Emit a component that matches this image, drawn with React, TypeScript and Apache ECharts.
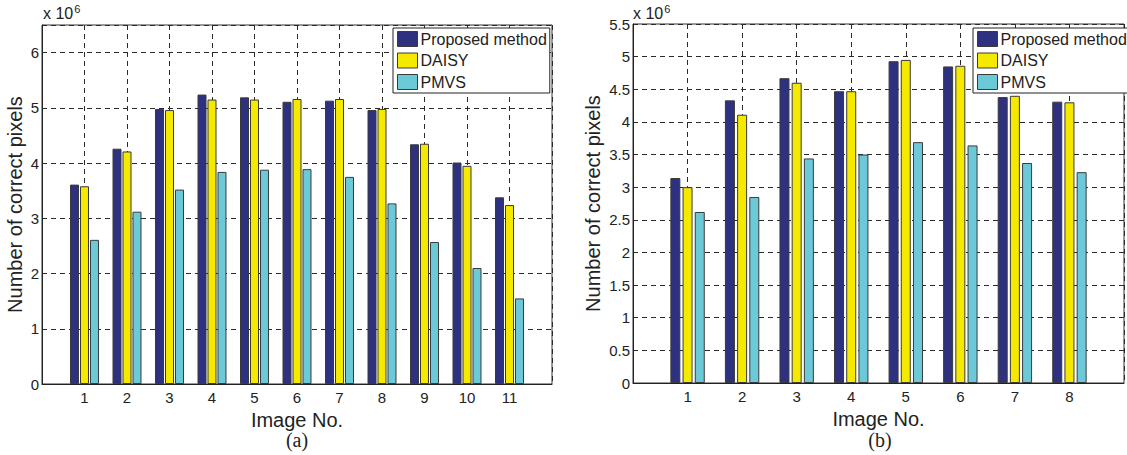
import React, { useEffect, useRef } from "react";
import * as echarts from "echarts";

const imagesA = [1, 2, 3, 4, 5, 6, 7, 8, 9, 10, 11];
const proposedA = [3.61, 4.26, 4.98, 5.24, 5.19, 5.11, 5.13, 4.96, 4.34, 4.01, 3.38];
const daisyA = [3.58, 4.21, 4.96, 5.15, 5.15, 5.16, 5.16, 4.98, 4.35, 3.95, 3.24];
const pmvsA = [2.61, 3.12, 3.52, 3.84, 3.88, 3.89, 3.75, 3.27, 2.57, 2.1, 1.55];

const imagesB = [1, 2, 3, 4, 5, 6, 7, 8];
const proposedB = [3.14, 4.33, 4.67, 4.47, 4.93, 4.85, 4.38, 4.31];
const daisyB = [3.0, 4.11, 4.6, 4.47, 4.95, 4.86, 4.4, 4.3];
const pmvsB = [2.62, 2.85, 3.44, 3.5, 3.69, 3.64, 3.37, 3.23];

const seriesNames = ["Proposed method", "DAISY", "PMVS"];
const colors = ["#2e3180", "#f5e900", "#6ccad8"];

const FONT = "Liberation Sans, Arial, Helvetica, sans-serif";
const SERIF = "Liberation Serif, Times New Roman, serif";

const pairs = (xs: number[], ys: number[]) => xs.map((x, i) => [x, ys[i]]);

export default function App() {
  const ref = useRef<HTMLDivElement>(null);
  useEffect(() => {
    if (!ref.current) return;
    const chart = echarts.init(ref.current, null, { renderer: "svg" });
    const split = { show: true, lineStyle: { color: "#2a2a2a", type: [5, 4] as any, width: 1 } };
    const axisLine = { show: true, lineStyle: { color: "#222", width: 1 } };
    const xAxisBase = (max: number, idx: number) => ({
      type: "value",
      gridIndex: idx,
      min: 0,
      max,
      interval: 1,
      axisLine,
      axisTick: { show: false },
      splitLine: split,
      axisLabel: {
        color: "#222",
        fontSize: 15,
        fontFamily: FONT,
        margin: 6,
        formatter: (v: number) => (v <= 0 || v >= max ? "" : String(v)),
      },
      name: "Image No.",
      nameLocation: "middle",
      nameGap: 17,
      nameTextStyle: { color: "#222", fontSize: 20, fontFamily: FONT, lineHeight: 20 },
    });
    const yAxisBase = (max: number, interval: number, idx: number, labelMax: number) => ({
      type: "value",
      gridIndex: idx,
      min: 0,
      max,
      interval,
      axisLine,
      axisTick: { show: false },
      splitLine: split,
      axisLabel: {
        color: "#222",
        fontSize: 15,
        fontFamily: FONT,
        margin: 3,
        formatter: (v: number) => (v > labelMax + 1e-9 ? "" : String(v)),
      },
      name: "Number of correct pixels",
      nameLocation: "middle",
      nameGap: idx === 0 ? 17 : 30,
      nameTextStyle: { color: "#222", fontSize: 20, fontFamily: FONT },
    });
    const mkSeries = (xs: number[], data: number[][], idx: number, bw: number, gap: string) =>
      data.map((vals, i) => ({
        name: seriesNames[i],
        type: "bar",
        xAxisIndex: idx,
        yAxisIndex: idx,
        barWidth: bw,
        barGap: gap,
        data: pairs(xs, vals),
        itemStyle: { color: colors[i], borderColor: "#3a3a3a", borderWidth: 1 },
      }));
    const legendBase = (left: number, top: number) => ({
      orient: "vertical",
      left,
      top,
      data: seriesNames,
      icon: "rect",
      itemWidth: 20,
      itemHeight: 15,
      itemGap: 5.5,
      padding: [3, 3, 3, 4],
      backgroundColor: "#fff",
      borderColor: "#222",
      borderWidth: 1,
      borderRadius: 0,
      itemStyle: { borderColor: "#3a3a3a", borderWidth: 1 },
      textStyle: { color: "#222", fontSize: 16, fontFamily: FONT, lineHeight: 15, padding: [0, 0, 0, -2] },
      selectedMode: false,
    });
    const expLabel = (x: number) => ({
      type: "text",
      left: x,
      top: 3,
      style: {
        text: "x 10{s|6}",
        fill: "#222",
        font: `16px ${FONT}`,
        rich: { s: { fontSize: 11, verticalAlign: "top", padding: [0, 0, 10, 1], fontFamily: FONT, fill: "#222" } },
      },
    });
    chart.setOption({
      animation: false,
      backgroundColor: "#fff",
      grid: [
        { left: 42, top: 25, width: 510, height: 359, show: true, borderColor: "#333", borderWidth: 1 },
        { left: 633, top: 24, width: 494, height: 359, show: true, borderColor: "#333", borderWidth: 1 },
      ],
      xAxis: [xAxisBase(12, 0), xAxisBase(9, 1)],
      yAxis: [yAxisBase(6.5, 1, 0, 6), yAxisBase(5.5, 0.5, 1, 5.5)],
      legend: [legendBase(393, 28), legendBase(973, 28)],
      series: [
        ...mkSeries(imagesA, [proposedA, daisyA, pmvsA], 0, 9, "11%"),
        ...mkSeries(imagesB, [proposedB, daisyB, pmvsB], 1, 10, "22%"),
      ],
      graphic: [
        expLabel(43),
        expLabel(633),
        {
          type: "text",
          x: 297,
          y: 440,
          style: { text: "(a)", fill: "#222", font: `20px ${SERIF}`, textAlign: "center", textVerticalAlign: "middle" },
        },
        {
          type: "text",
          x: 880,
          y: 440,
          style: { text: "(b)", fill: "#222", font: `20px ${SERIF}`, textAlign: "center", textVerticalAlign: "middle" },
        },
      ],
    } as any);
    return () => chart.dispose();
  }, []);
  return (
    <div
      ref={ref}
      style={{ position: "absolute", left: 0, top: 0, width: 1127, height: 455, background: "#fff" }}
    />
  );
}
